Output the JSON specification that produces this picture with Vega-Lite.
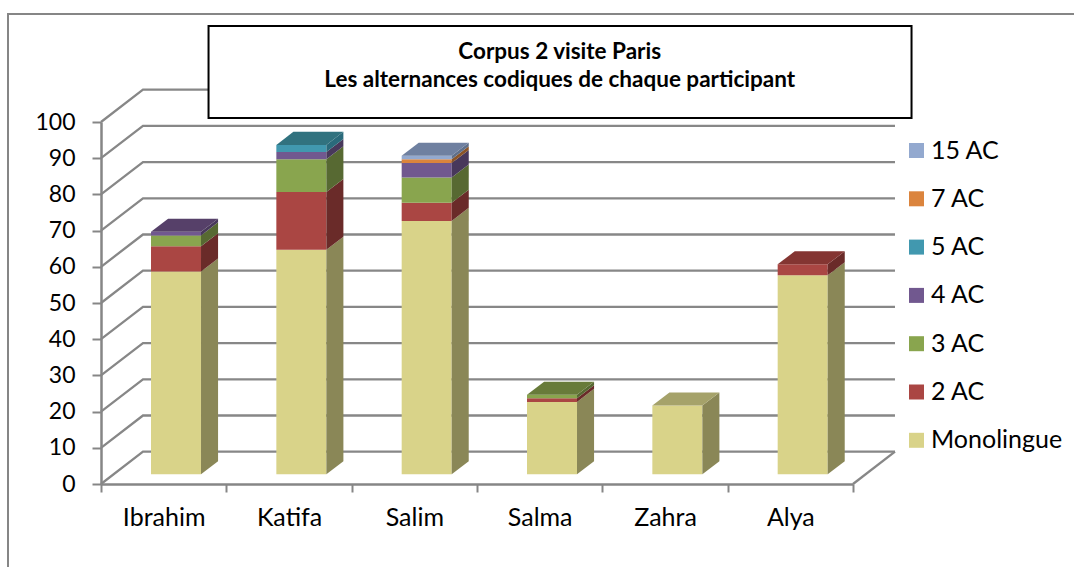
{
"$schema":"https://vega.github.io/schema/vega-lite/v6.json",
"width":752,"height":362,
"autosize":{"type":"none"},
"padding":{"left":101,"top":122,"right":221,"bottom":83},
"background":"white",
"config":{"view":{"stroke":null},"font":"Lato","axisY":{"tickCount":11,"labelOverlap":false,"labelBound":false}},
"datasets":{
"bars":[
{"participant":"Ibrahim","series":"Monolingue","value":56},
{"participant":"Ibrahim","series":"2 AC","value":7},
{"participant":"Ibrahim","series":"3 AC","value":3},
{"participant":"Ibrahim","series":"4 AC","value":1},
{"participant":"Katifa","series":"Monolingue","value":62},
{"participant":"Katifa","series":"2 AC","value":16},
{"participant":"Katifa","series":"3 AC","value":9},
{"participant":"Katifa","series":"4 AC","value":2},
{"participant":"Katifa","series":"5 AC","value":2},
{"participant":"Salim","series":"Monolingue","value":70},
{"participant":"Salim","series":"2 AC","value":5},
{"participant":"Salim","series":"3 AC","value":7},
{"participant":"Salim","series":"4 AC","value":4},
{"participant":"Salim","series":"7 AC","value":1},
{"participant":"Salim","series":"15 AC","value":1},
{"participant":"Salma","series":"Monolingue","value":20},
{"participant":"Salma","series":"2 AC","value":1},
{"participant":"Salma","series":"3 AC","value":1},
{"participant":"Zahra","series":"Monolingue","value":19},
{"participant":"Alya","series":"Monolingue","value":55},
{"participant":"Alya","series":"2 AC","value":3}
],
"grid":[{"g":0},{"g":10},{"g":20},{"g":30},{"g":40},{"g":50},{"g":60},{"g":70},{"g":80},{"g":90},{"g":100}]
},
"data":{"name":"bars"},
"transform":[
{"calculate":"indexof(['Monolingue','2 AC','3 AC','4 AC','5 AC','7 AC','15 AC'],datum.series)","as":"rank"},
{"stack":"value","groupby":["participant"],"sort":[{"field":"rank","order":"ascending"}],"as":["v0","v1"]},
{"calculate":"indexof(['Ibrahim','Katifa','Salim','Salma','Zahra','Alya'],datum.participant)","as":"i"},
{"calculate":"datum.i+0.399","as":"xl"},
{"calculate":"datum.i+0.798","as":"xr"},
{"calculate":"datum.v0+2.68","as":"y0"},
{"calculate":"datum.v1+2.68","as":"y1"}
],
"layer":[
{"data":{"values":[{"frame":1}]},"transform":[],"mark":{"type":"rect","fill":"transparent","stroke":"#868686","strokeWidth":2},
 "encoding":{"x":{"datum":-0.742,"type":"quantitative","scale":{"domain":[0,6]},"axis":null},"x2":{"datum":9},"y":{"datum":129.83,"type":"quantitative","scale":{"domain":[0,100]},"axis":{"values":[0,10,20,30,40,50,60,70,80,90,100],"tickCount":11,"title":null,"grid":false,"tickSize":9,"tickWidth":2,"tickColor":"#868686","domainColor":"#868686","domainWidth":2.5,"labelFont":"Lato","labelFontSize":23,"labelColor":"black","labelPadding":17,"labelOverlap":false}},"y2":{"datum":-40}}},
{"data":{"name":"grid"},"transform":[{"calculate":"0","as":"a"},{"calculate":"0.335","as":"b"},{"calculate":"6.335","as":"c"},{"fold":["a","b","c"],"as":["k","xv"]},{"calculate":"datum.g+(datum.k=='a'?0:8.92)","as":"yv"}],
 "mark":{"type":"line","color":"#878787","strokeWidth":2.3,"interpolate":"linear"},
 "encoding":{"x":{"field":"xv","type":"quantitative","scale":{"domain":[0,6]},"axis":null},"y":{"field":"yv","type":"quantitative"},"detail":{"field":"g"}}},
{"data":{"values":[{"g":0}]},"transform":[{"calculate":"6","as":"a"},{"calculate":"6.335","as":"b"},{"fold":["a","b"],"as":["k","xv"]},{"calculate":"datum.g+(datum.k=='a'?0:8.92)","as":"yv"}],
 "mark":{"type":"line","color":"#878787","strokeWidth":2.3},
 "encoding":{"x":{"field":"xv","type":"quantitative","scale":{"domain":[0,6]},"axis":null},"y":{"field":"yv","type":"quantitative"}}},
{"mark":{"type":"rect","opacity":0},
 "encoding":{"x":{"field":"participant","type":"nominal","sort":["Ibrahim","Katifa","Salim","Salma","Zahra","Alya"],"scale":{"paddingInner":0,"paddingOuter":0},"axis":{"title":null,"labelAngle":0,"tickBand":"extent","tickSize":8,"tickWidth":2,"tickColor":"#868686","domainColor":"#868686","domainWidth":2.5,"labelFont":"Lato","labelFontSize":25,"labelColor":"black","labelPadding":13}}}},
{"mark":{"type":"rect"},
 "encoding":{"x":{"field":"xl","type":"quantitative","scale":{"domain":[0,6]},"axis":null},"x2":{"field":"xr"},"y":{"field":"y0","type":"quantitative"},"y2":{"field":"y1"},
 "color":{"field":"series","type":"nominal","scale":{"domain":["15 AC","7 AC","5 AC","4 AC","3 AC","2 AC","Monolingue"],"range":["#93A9CF","#DB843D","#4198AF","#71588F","#89A54E","#AA4643","#D9D389"]},
 "legend":{"title":null,"orient":"none","legendX":803,"legendY":16,"symbolType":"square","symbolSize":225,"symbolStrokeWidth":0,"labelFont":"Lato","labelFontSize":25,"labelColor":"black","rowPadding":22.3,"labelOffset":2,"padding":0}}}},
{"transform":[{"calculate":"datum.xr","as":"s0"},{"calculate":"datum.xr+0.136","as":"s1"},{"fold":["s0","s1"],"as":["k","xv"]},{"calculate":"datum.k=='s1'?3.6:0","as":"d"},{"calculate":"datum.y0+datum.d","as":"ya"},{"calculate":"datum.y1+datum.d","as":"yb"}],
 "mark":{"type":"area","orient":"vertical","interpolate":"linear"},
 "encoding":{"x":{"field":"xv","type":"quantitative","scale":{"domain":[0,6]},"axis":null},"y":{"field":"ya","type":"quantitative","stack":null},"y2":{"field":"yb"},"detail":{"field":"participant"},
 "color":{"field":"series","type":"nominal","legend":null,"scale":{"domain":["15 AC","7 AC","5 AC","4 AC","3 AC","2 AC","Monolingue"],"range":["#5F6F8A","#8B5427","#2A6A7B","#48385B","#576932","#6A2B29","#8A8757"]}}}},
{"transform":[{"joinaggregate":[{"op":"max","field":"v1","as":"top"}],"groupby":["participant"]},{"filter":"datum.v1==datum.top"},{"calculate":"0","as":"f0"},{"calculate":"1","as":"f1"},{"fold":["f0","f1"],"as":["k","d"]},{"calculate":"datum.y1+datum.d*3.6","as":"ya"},{"calculate":"datum.xl+datum.d*0.136","as":"xa"},{"calculate":"datum.xr+datum.d*0.136","as":"xb"}],
 "mark":{"type":"area","orient":"horizontal","interpolate":"linear"},
 "encoding":{"y":{"field":"ya","type":"quantitative","stack":null},"x":{"field":"xa","type":"quantitative","scale":{"domain":[0,6]},"axis":null},"x2":{"field":"xb"},"detail":{"field":"participant"},
 "color":{"field":"series","type":"nominal","legend":null,"scale":{"domain":["15 AC","7 AC","5 AC","4 AC","3 AC","2 AC","Monolingue"],"range":["#6F80A0","#A86A33","#31727F","#564069","#687B3A","#843532","#A5A26A"]}}}},
{"data":{"values":[{"box":1}]},"transform":[],"mark":{"type":"rect","fill":"white","stroke":"black","strokeWidth":2},
 "encoding":{"x":{"datum":0.858,"type":"quantitative","scale":{"domain":[0,6]},"axis":null},"x2":{"datum":6.467},"y":{"datum":126.5,"type":"quantitative"},"y2":{"datum":101.1}}},
{"data":{"values":[{"line":"Corpus 2 visite Paris","pos":119.3},{"line":"Les alternances codiques de chaque participant","pos":111.6}]},"transform":[],
 "mark":{"type":"text","font":"Lato","fontSize":22.5,"fontWeight":"bold","color":"black","align":"center","baseline":"middle"},
 "encoding":{"x":{"datum":3.66,"type":"quantitative","scale":{"domain":[0,6]},"axis":null},"y":{"field":"pos","type":"quantitative"},"text":{"field":"line"}}}
],
"resolve":{"scale":{"x":"independent","color":"independent"}}
}
